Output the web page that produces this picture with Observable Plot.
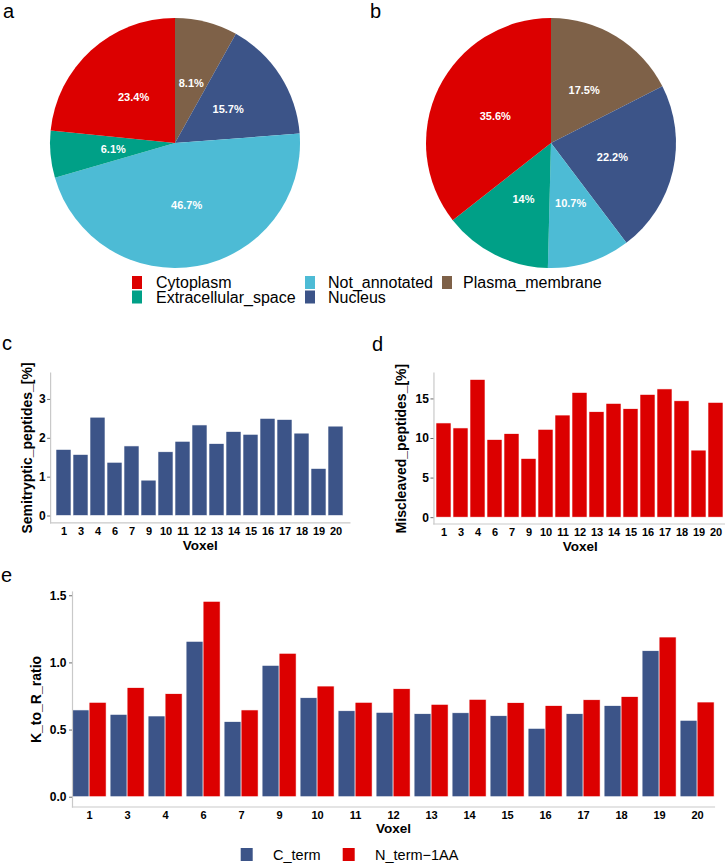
<!DOCTYPE html>
<html>
<head>
<meta charset="utf-8">
<script src="https://cdn.jsdelivr.net/npm/d3@7"></script>
<script src="https://cdn.jsdelivr.net/npm/@observablehq/plot@0.6"></script>
<style>
  body { margin: 0; background: #fff; font-family: Arial, "Liberation Sans", sans-serif; }
  #fig { position: relative; width: 725px; height: 863px; overflow: hidden; background: #fff; }
</style>
</head>
<body>
<div id="fig"></div>
<script>
// ---------------- DATA ----------------
const locations = ["Cytoplasm", "Extracellular_space", "Not_annotated", "Nucleus", "Plasma_membrane"];
const locationColors = ["#DC0000", "#00A087", "#4DBBD5", "#3C5488", "#7E6148"];
// slice order, clockwise from 12 o'clock
const pieOrder = ["Plasma_membrane", "Nucleus", "Not_annotated", "Extracellular_space", "Cytoplasm"];
const pieA = [8.1, 15.7, 46.7, 6.1, 23.4];
const pieB = [17.5, 22.2, 10.7, 14, 35.6];

const voxels = ["1", "3", "4", "6", "7", "9", "10", "11", "12", "13", "14", "15", "16", "17", "18", "19", "20"];
const semitryptic = [1.70, 1.57, 2.53, 1.37, 1.79, 0.91, 1.64, 1.91, 2.33, 1.85, 2.16, 2.09, 2.50, 2.47, 2.12, 1.21, 2.30];
const miscleaved = [11.9, 11.27, 17.39, 9.8, 10.55, 7.41, 11.1, 12.9, 15.75, 13.32, 14.37, 13.7, 15.5, 16.2, 14.7, 8.47, 14.5];

const terms = ["C_term", "N_term\u22121AA"];
const termColors = ["#3C5488", "#DC0000"];
const cTerm = [0.646, 0.613, 0.601, 1.157, 0.559, 0.978, 0.737, 0.640, 0.628, 0.618, 0.625, 0.603, 0.509, 0.618, 0.678, 1.087, 0.569];
const nTerm = [0.703, 0.812, 0.767, 1.455, 0.646, 1.068, 0.824, 0.703, 0.804, 0.688, 0.725, 0.700, 0.678, 0.722, 0.745, 1.189, 0.705];

// ---------------- HELPERS ----------------
const FONT = "Arial, 'Liberation Sans', sans-serif";
const baseStyle = { fontFamily: FONT, background: "transparent", color: "black", overflow: "visible" };
const axisGrey = "#c9c9c9";
const tickGrey = "#6e6e6e";
const fig = document.getElementById("fig");
function place(node, left, top) {
  node.style.position = "absolute";
  node.style.left = left + "px";
  node.style.top = top + "px";
  fig.appendChild(node);
}

const locColor = Plot.scale({ color: { type: "ordinal", domain: locations, range: locationColors } });
const termColor = Plot.scale({ color: { type: "ordinal", domain: terms, range: termColors } });

// ---------------- PIES ----------------
function pieChart(values, width, cx) {
  const slices = d3.pie().sort(null).value(d => d.value)(pieOrder.map((k, i) => ({ location: k, value: values[i] })));
  const labels = slices.map(s => {
    const a = (s.startAngle + s.endAngle) / 2;
    return { x: 0.5 * Math.sin(a), y: 0.5 * Math.cos(a), label: s.data.value + "%" };
  });
  const slicesMark = (index, scales) => {
    const ox = scales.x(0), oy = scales.y(0), r = Math.abs(scales.x(1) - scales.x(0));
    const arc = d3.arc().innerRadius(0).outerRadius(r);
    const g = d3.create("svg:g").attr("transform", `translate(${ox},${oy})`);
    g.selectAll("path").data(slices).join("path")
      .attr("d", arc)
      .attr("fill", d => locColor.apply(d.data.location));
    return g.node();
  };
  return Plot.plot({
    width, height: 270, margin: 0,
    style: baseStyle,
    x: { domain: [-1, 1], range: [cx - 125, cx + 125], axis: null },
    y: { domain: [-1, 1], range: [268, 18], axis: null },
    marks: [
      slicesMark,
      Plot.text(labels, { x: "x", y: "y", text: "label", fill: "white", fontWeight: "bold", fontSize: 11 })
    ]
  });
}
place(pieChart(pieA, 362, 175), 0, 0);
place(pieChart(pieB, 363, 189), 362, 0);

// ---------------- BAR CHARTS c, d ----------------
function voxelBars(values, color, o) {
  const data = voxels.map((v, i) => ({ voxel: v, value: values[i] }));
  return Plot.plot({
    width: o.width, height: 200,
    marginLeft: o.ml, marginRight: o.mr, marginTop: 17.7, marginBottom: o.mb,
    style: baseStyle,
    x: { domain: voxels, paddingInner: 0.1, paddingOuter: 0.15 },
    y: { domain: o.domain },
    marks: [
      Plot.barY(data, { x: "voxel", y: "value", fill: color, stroke: "white", strokeWidth: 0.6 }),
      Plot.frame({ anchor: "left", stroke: axisGrey, strokeWidth: 1.2 }),
      Plot.frame({ anchor: "bottom", stroke: axisGrey, strokeWidth: 1.2 }),
      Plot.axisY({ ticks: o.ticks, tickFormat: d3.format("d"), tickSize: 3, tickPadding: 2, stroke: tickGrey, fill: "black", fontSize: 12, fontWeight: "bold", label: null }),
      Plot.axisX({ tickSize: 0, tickPadding: 4.5, fill: "black", fontSize: 11, fontWeight: "bold", label: null }),
      Plot.text(["Voxel"], { text: d => d, frameAnchor: "bottom", dy: 22.5, textAnchor: "middle", lineAnchor: "middle", fontSize: 13.5, fontWeight: "bold" }),
      Plot.text([o.title], { text: d => d, frameAnchor: "left", rotate: -90, dx: o.titleDx, textAnchor: "middle", lineAnchor: "middle", fontSize: 14, fontWeight: "bold" })
    ]
  });
}
place(voxelBars(semitryptic, "#3C5488", {
  width: 355, ml: 50.1, mr: 5.6, mb: 32.7, domain: [-0.175, 3.675], ticks: [0, 1, 2, 3],
  title: "Semitryptic_peptides_[%]", titleDx: -23
}), 0, 355);
place(voxelBars(miscleaved, "#DC0000", {
  width: 364, ml: 71.45, mr: 0, mb: 31.5, domain: [-0.8, 18.25], ticks: [0, 5, 10, 15],
  title: "Miscleaved_peptides_[%]", titleDx: -32.5
}), 362, 355);

// ---------------- GROUPED BARS e ----------------
const eData = voxels.flatMap((v, i) => [
  { voxel: v, series: terms[0], value: cTerm[i] },
  { voxel: v, series: terms[1], value: nTerm[i] }
]);
place(Plot.plot({
  width: 725, height: 265,
  marginLeft: 60.9, marginRight: 0.5, marginTop: 16.5, marginBottom: 33.5,
  style: baseStyle,
  fx: { domain: voxels, paddingInner: 0.1, paddingOuter: 0.15, label: null },
  x: { domain: terms, padding: 0, axis: null },
  y: { domain: [-0.0728, 1.528] },
  color: { domain: terms, range: termColors },
  marks: [
    Plot.barY(eData, { fx: "voxel", x: "series", y: "value", fill: "series", stroke: "white", strokeWidth: 0.6 }),
    Plot.frame({ anchor: "left", stroke: axisGrey, strokeWidth: 1.2, facet: "super" }),
    Plot.frame({ anchor: "bottom", stroke: axisGrey, strokeWidth: 1.2, facet: "super" }),
    Plot.axisY({ ticks: [0, 0.5, 1, 1.5], tickFormat: d3.format(".1f"), tickSize: 3, tickPadding: 3, stroke: tickGrey, fill: "black", fontSize: 12, fontWeight: "bold", label: null }),
    Plot.axisFx({ anchor: "bottom", tickSize: 0, tickPadding: 4, fill: "black", fontSize: 11, fontWeight: "bold", label: null }),
    Plot.text(["Voxel"], { text: d => d, frameAnchor: "bottom", dy: 21.5, textAnchor: "middle", lineAnchor: "middle", fontSize: 13.5, fontWeight: "bold", facet: "super" }),
    Plot.text(["K_to_R_ratio"], { text: d => d, frameAnchor: "left", rotate: -90, dx: -36, textAnchor: "middle", lineAnchor: "middle", fontSize: 14, fontWeight: "bold", facet: "super" })
  ]
}), 0, 575);

// ---------------- OVERLAY: panel tags + legends ----------------
const ov = d3.create("svg").attr("width", 725).attr("height", 863)
  .style("position", "absolute").style("left", "0px").style("top", "0px")
  .style("pointer-events", "none").style("font-family", FONT);

const tags = [["a", 3, 18.2], ["b", 370, 18.2], ["c", 2, 350], ["d", 372, 350.5], ["e", 1, 581.5]];
ov.selectAll("text.tag").data(tags).join("text").attr("class", "tag")
  .attr("x", d => d[1]).attr("y", d => d[2]).attr("font-size", 20).text(d => d[0]);

// pie legend (column-major, 2 rows)
const legKeyX = [132, 305, 442], legTextX = [156, 328, 463], legKeyY = [276, 290.5], legBase = [288.3, 302.7];
const pl = ov.append("g");
locations.forEach((loc, i) => {
  const c = Math.floor(i / 2), r = i % 2;
  pl.append("rect").attr("x", legKeyX[c]).attr("y", legKeyY[r]).attr("width", 10).attr("height", 13)
    .attr("fill", locColor.apply(loc));
  pl.append("text").attr("x", legTextX[c]).attr("y", legBase[r]).attr("font-size", 16).text(loc);
});

// e legend
const eKeyX = [240.7, 342.7], eTextX = [273, 375];
terms.forEach((t, i) => {
  ov.append("rect").attr("x", eKeyX[i]).attr("y", 848).attr("width", 12).attr("height", 13).attr("fill", termColor.apply(t));
  ov.append("text").attr("x", eTextX[i]).attr("y", 860).attr("font-size", 14.5).text(t);
});

fig.appendChild(ov.node());
</script>
</body>
</html>
